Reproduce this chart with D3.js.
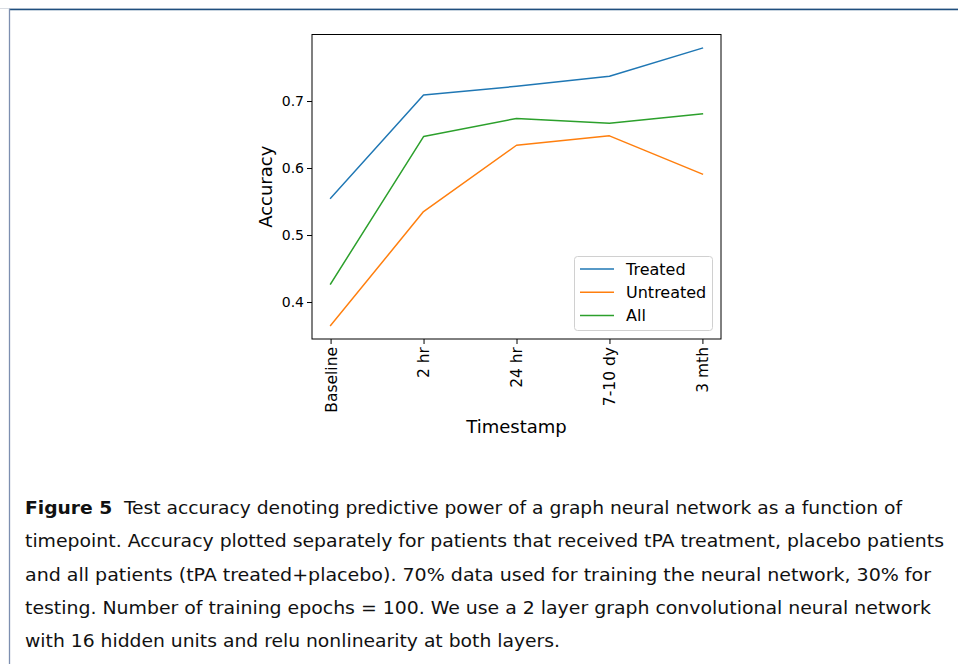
<!DOCTYPE html>
<html>
<head>
<meta charset="utf-8">
<script src="https://cdn.jsdelivr.net/npm/d3@7"></script>
<style>
  html, body { margin: 0; padding: 0; background: #fff; }
  svg { display: block; }
</style>
</head>
<body>
<svg id="chart" width="958" height="664"></svg>
<script>
// ---- data ----
const categories = ["Baseline", "2 hr", "24 hr", "7-10 dy", "3 mth"];
const treated    = [0.555, 0.709, 0.722, 0.737, 0.779];
const untreated  = [0.365, 0.535, 0.634, 0.648, 0.591];
const allPatients= [0.427, 0.647, 0.674, 0.667, 0.681];
const seriesNames = ["Treated", "Untreated", "All"];
const seriesColors = ["#1f77b4", "#ff7f0e", "#2ca02c"];
const yTicks = [0.4, 0.5, 0.6, 0.7];
const xLabel = "Timestamp";
const yLabel = "Accuracy";
const captionLines = [
  {bold: "Figure 5", text: "  Test accuracy denoting predictive power of a graph neural network as a function of", width: 877},
  {bold: "", text: "timepoint. Accuracy plotted separately for patients that received tPA treatment, placebo patients", width: 919},
  {bold: "", text: "and all patients (tPA treated+placebo). 70% data used for training the neural network, 30% for", width: 906},
  {bold: "", text: "testing. Number of training epochs = 100. We use a 2 layer graph convolutional neural network", width: 906},
  {bold: "", text: "with 16 hidden units and relu nonlinearity at both layers.", width: 535}
];

const svg = d3.select("#chart");

// frame
svg.append("line").attr("x1", 0).attr("x2", 958).attr("y1", 8.5).attr("y2", 8.5)
  .attr("stroke", "#d9dde3").attr("stroke-width", 1);
svg.append("line").attr("x1", 9).attr("x2", 958).attr("y1", 9.5).attr("y2", 9.5)
  .attr("stroke", "#1f4f7f").attr("stroke-width", 1.3);
svg.append("line").attr("x1", 9.5).attr("x2", 9.5).attr("y1", 9).attr("y2", 664)
  .attr("stroke", "#7d8fb0").attr("stroke-width", 1.3);

// plot area
const L = 312, R = 721, T = 34.5, B = 339;
// matplotlib-style 5% margins: 4 index units padded by 0.2 on each side
const xs = d3.scaleLinear().domain([-0.2, categories.length - 1 + 0.2]).range([L, R]);
const y = d3.scaleLinear().domain([0.3448, 0.7993]).range([B, T]);

const g = svg.append("g");

// lines
const series = [treated, untreated, allPatients];
const lineGen = d3.line().x((d, i) => xs(i)).y(d => y(d));
series.forEach((s, k) => {
  g.append("path").datum(s).attr("d", lineGen)
    .attr("fill", "none").attr("stroke", seriesColors[k]).attr("stroke-width", 1.5)
    .attr("stroke-linejoin", "round").attr("stroke-linecap", "square");
});

// axes
const yAxis = d3.axisLeft(y).tickValues(yTicks).tickFormat(d3.format(".1f")).tickSize(5).tickPadding(3);
const yg = svg.append("g").attr("transform", `translate(${L},0)`).call(yAxis);
yg.select(".domain").remove();
yg.selectAll("text").attr("font-family", "DejaVu Sans").attr("font-size", 14).attr("fill", "#000");
yg.selectAll("line").attr("stroke", "#000");

const xAxis = d3.axisBottom(xs).tickValues(d3.range(categories.length)).tickFormat(i => categories[i]).tickSize(5);
const xg = svg.append("g").attr("transform", `translate(0,${B})`).call(xAxis);
xg.select(".domain").remove();
xg.selectAll("line").attr("stroke", "#000");
xg.selectAll("text")
  .attr("font-family", "DejaVu Sans").attr("font-size", 15.5).attr("fill", "#000")
  .attr("transform", "rotate(-90)")
  .attr("x", -8).attr("y", 0).attr("dy", "0.35em")
  .attr("text-anchor", "end");

// spines
svg.append("rect").attr("x", L).attr("y", T).attr("width", R - L).attr("height", B - T)
  .attr("fill", "none").attr("stroke", "#000").attr("stroke-width", 1);

// axis labels
svg.append("text").attr("x", (L + R) / 2).attr("y", 433)
  .attr("text-anchor", "middle").attr("font-family", "DejaVu Sans").attr("font-size", 18)
  .text(xLabel);
svg.append("text").attr("transform", `translate(272,${(T + B) / 2}) rotate(-90)`)
  .attr("text-anchor", "middle").attr("font-family", "DejaVu Sans").attr("font-size", 18)
  .text(yLabel);

// legend
const lg = svg.append("g");
lg.append("rect").attr("x", 574.5).attr("y", 256.5).attr("width", 138).attr("height", 74).attr("rx", 3)
  .attr("fill", "#fff").attr("fill-opacity", 0.8).attr("stroke", "#d0d0d0").attr("stroke-width", 1);
seriesNames.forEach((n, k) => {
  const yy = 269 + k * 23.3;
  lg.append("line").attr("x1", 580).attr("x2", 614).attr("y1", yy).attr("y2", yy)
    .attr("stroke", seriesColors[k]).attr("stroke-width", 1.5);
  lg.append("text").attr("x", 626).attr("y", yy).attr("dy", "0.35em")
    .attr("font-family", "DejaVu Sans").attr("font-size", 16).attr("fill", "#000").text(n);
});

// caption
const cap = svg.append("g");
captionLines.forEach((ln, i) => {
  const t = cap.append("text").attr("x", 25).attr("y", 514 + i * 33.3)
    .attr("font-family", "'DejaVu Sans Condensed', 'Liberation Sans Narrow', 'Liberation Sans', sans-serif")
    .attr("font-size", 18).attr("fill", "#111")
    .attr("textLength", ln.width).attr("lengthAdjust", "spacingAndGlyphs")
    .attr("xml:space", "preserve").style("white-space", "pre");
  if (ln.bold) t.append("tspan").attr("font-weight", "bold").text(ln.bold);
  t.append("tspan").text(ln.text);
});
</script>
</body>
</html>
